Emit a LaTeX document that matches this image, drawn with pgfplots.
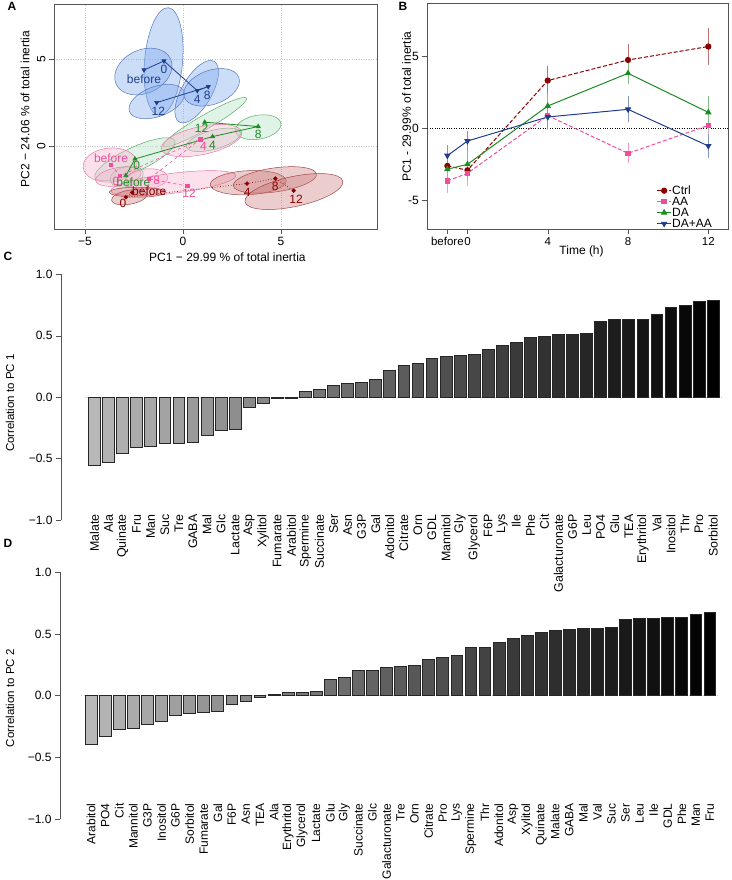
\documentclass[border=0pt]{standalone}
\usepackage{fontspec}
\setmainfont{Liberation Sans}
\usepackage{pgfplots}
\usepackage{pgfplotstable}
\pgfplotsset{compat=1.18}

\definecolor{ctrl}{HTML}{8B0000}
\definecolor{aa}{HTML}{EE4F9C}
\definecolor{da}{HTML}{1E8B22}
\definecolor{daaa}{HTML}{1F3F8C}
\definecolor{axgray}{HTML}{555555}
\definecolor{bfill}{HTML}{7FA9EE}
\definecolor{bline}{HTML}{5577BB}
\definecolor{gfill}{HTML}{B8E6C8}
\definecolor{gline}{HTML}{5DAA6A}
\definecolor{pfill}{HTML}{F7B5CF}
\definecolor{pline}{HTML}{E57AA5}
\definecolor{rfill}{HTML}{C87070}
\definecolor{rline}{HTML}{A04848}

\newcommand{\fs}{\fontsize{12}{14}\selectfont}
\newcommand{\fl}{\fontsize{11.5}{13}\selectfont}
% ellipse: style, cx, cy, semi axes (pt), rotation
\newcommand{\ellp}[6]{\draw[#1, rotate around={#6:(axis cs:#2,#3)}] (axis cs:#2,#3) ellipse [x radius=#4pt, y radius=#5pt];}

% correlations to PC1 (panel C), sorted
\pgfplotstableread{
x y
0 -0.555
1 -0.530
2 -0.454
3 -0.410
4 -0.400
5 -0.377
6 -0.374
7 -0.372
8 -0.314
9 -0.273
10 -0.260
11 -0.087
12 -0.050
13 -0.010
14 -0.007
15 0.044
16 0.066
17 0.096
18 0.112
19 0.123
20 0.148
21 0.220
22 0.257
23 0.276
24 0.314
25 0.328
26 0.344
27 0.347
28 0.393
29 0.423
30 0.450
31 0.490
32 0.497
33 0.508
34 0.510
35 0.522
36 0.615
37 0.631
38 0.631
39 0.637
40 0.678
41 0.727
42 0.746
43 0.776
44 0.784
}\pcone

% correlations to PC2 (panel D), sorted
\pgfplotstableread{
x y
0 -0.397
1 -0.332
2 -0.273
3 -0.268
4 -0.232
5 -0.205
6 -0.162
7 -0.146
8 -0.135
9 -0.124
10 -0.070
11 -0.046
12 -0.011
13 0.008
14 0.024
15 0.027
16 0.032
17 0.130
18 0.149
19 0.205
20 0.208
21 0.227
22 0.240
23 0.243
24 0.297
25 0.308
26 0.327
27 0.392
28 0.395
29 0.430
30 0.468
31 0.486
32 0.511
33 0.527
34 0.535
35 0.543
36 0.546
37 0.557
38 0.616
39 0.627
40 0.627
41 0.632
42 0.638
43 0.657
44 0.678
}\pctwo

% one bar per plot, shaded light grey -> black
\newcommand{\shadedbars}[1]{%
  \pgfplotsinvokeforeach{0,...,44}{%
    \pgfmathsetmacro\shade{28+1.636*##1}%
    \edef\tmp{\noexpand\addplot[ybar, bar width=11.8pt, draw=black!85, line width=0.7pt,
      fill=black!\shade, restrict x to domain=##1:##1] table[x=x,y=y] {\noexpand#1};}%
    \tmp
  }%
}

\tikzset{
  ell b/.style={draw=bline, fill=bfill, fill opacity=0.4, line width=0.5pt},
  ell g/.style={draw=gline, fill=gfill, fill opacity=0.45, line width=0.5pt},
  ell p/.style={draw=pline, fill=pfill, fill opacity=0.4, line width=0.5pt},
  ell r/.style={draw=rline, fill=rfill, fill opacity=0.35, line width=0.5pt},
}

\pgfplotsset{
  rstyle/.style={
    scale only axis,
    tick align=outside,
    major tick length=5pt,
    axis line style={axgray},
    every tick/.style={axgray},
    tick label style={font=\fs},
  },
  barstyle/.style={
    rstyle,
    ymin=-1, ymax=1,
    axis lines*=left,
    x axis line style={draw=none},
    xtick style={draw=none},
    ytick={-1,-0.5,0,0.5,1},
    yticklabels={−1.0,−0.5,0.0,0.5,1.0},
    xtick={0,...,44},
    x tick label style={rotate=90, anchor=east},
  },
}

\begin{document}
\begin{tikzpicture}
\useasboundingbox (0,0) rectangle (731pt,880pt);

% ---------------- panel A ----------------
\begin{axis}[rstyle,
  at={(54pt,651pt)}, anchor=south west,
  width=323pt, height=224.7pt,
  xmin=-6.58, xmax=9.9, ymin=-4.79, ymax=8.17,
  xtick={-5,0,5}, xticklabels={−5,0,5},
  ytick={0,5}, yticklabels={0,5},
  xtick pos=bottom, ytick pos=left,
  yticklabel style={rotate=90, anchor=south},
  grid=major, major grid style={gray!45, dotted},
  xlabel={PC1 − 29.99 \% of total inertia},
  ylabel={PC2 − 24.06 \% of total inertia},
  every axis x label/.style={at={(axis description cs:0.537,-0.1246)}, anchor=center, font=\fs},
  every axis y label/.style={at={(axis description cs:-0.0898,0.534)}, anchor=center, rotate=90, font=\fs},
]
% DA+AA ellipses
\ellp{ell b}{-0.99}{4.87}{54}{19}{85}
\ellp{ell b}{-2.02}{4.29}{30}{21.7}{25}
\ellp{ell b}{-1.34}{2.56}{29}{15}{20}
\ellp{ell b}{0.70}{3.13}{35}{15}{60}
\ellp{ell b}{1.46}{3.38}{29}{17}{20}
% DA ellipses
\ellp{ell g}{1.12}{1.37}{48}{7}{30}
\ellp{ell g}{3.84}{1.08}{23}{12}{10}
\ellp{ell g}{1.55}{0.35}{28}{9.5}{15}
\ellp{ell g}{-2.45}{-0.77}{44}{12}{25}
\ellp{ell g}{-2.87}{-1.77}{17}{10}{15}
% AA ellipses
\ellp{ell p}{-3.72}{-1.10}{27}{17}{5}
\ellp{ell p}{-3.30}{-1.77}{23}{9}{10}
\ellp{ell p}{-1.85}{-1.90}{21}{10}{5}
\ellp{ell p}{0.95}{0.31}{41}{14}{12}
\ellp{ell p}{-0.49}{-2.15}{63}{10}{7}
% Ctrl ellipses
\ellp{ell r}{-2.33}{-2.67}{28}{5}{0}
\ellp{ell r}{-2.74}{-2.96}{18}{7}{10}
\ellp{ell r}{3.33}{-2.12}{38}{12}{3}
\ellp{ell r}{4.69}{-1.96}{42}{12}{8}
\ellp{ell r}{5.66}{-2.63}{50}{15}{12}

% trajectories: before, 0, 4, 8, 12
\addplot[daaa, line width=0.8pt, mark=triangle*, mark size=2.2pt, mark options={rotate=180}]
  coordinates {(-1.99,4.38) (-0.97,4.90) (0.73,3.19) (1.29,3.42) (-1.34,2.50)};
\addplot[da, line width=0.8pt, mark=triangle*, mark size=2.2pt]
  coordinates {(-2.91,-1.71) (-2.45,-0.75) (1.51,0.54) (3.84,1.12) (1.11,1.37)};
\addplot[aa, line width=0.6pt, dashed, mark=square*, mark size=1.6pt, mark options={solid}]
  coordinates {(-3.67,-1.08) (-3.21,-1.73) (0.88,0.38) (-1.73,-1.90) (0.22,-2.31)};
\addplot[ctrl, line width=0.7pt, dotted, mark=*, mark size=1.8pt, mark options={solid}]
  coordinates {(-2.59,-2.69) (-2.91,-2.96) (3.27,-2.17) (4.71,-1.88) (5.65,-2.58)};

\begin{scope}[font=\fs]
\node[daaa] at (axis cs:-1.99,3.87) {before};
\node[daaa] at (axis cs:-0.97,4.42) {0};
\node[daaa] at (axis cs:0.73,2.69) {4};
\node[daaa] at (axis cs:1.24,2.94) {8};
\node[daaa] at (axis cs:-1.26,2.02) {12};
\node[da] at (axis cs:-2.53,-2.12) {before};
\node[da] at (axis cs:-2.36,-1.10) {0};
\node[da] at (axis cs:1.51,0.02) {4};
\node[da] at (axis cs:3.84,0.69) {8};
\node[da] at (axis cs:0.95,1.0) {12};
\node[aa] at (axis cs:-3.67,-0.73) {before};
\node[aa] at (axis cs:-3.42,-2.02) {0};
\node[aa] at (axis cs:1.05,-0.04) {4};
\node[aa] at (axis cs:-1.34,-1.96) {8};
\node[aa] at (axis cs:0.31,-2.73) {12};
\node[ctrl] at (axis cs:-1.72,-2.63) {before};
\node[ctrl] at (axis cs:-3.06,-3.31) {0};
\node[ctrl] at (axis cs:3.28,-2.65) {4};
\node[ctrl] at (axis cs:4.71,-2.35) {8};
\node[ctrl] at (axis cs:5.77,-3.06) {12};
\end{scope}
\end{axis}

% ---------------- panel B ----------------
\begin{axis}[rstyle,
  at={(427.3pt,651pt)}, anchor=south west,
  width=300.7pt, height=225.7pt,
  xmin=-2, xmax=12.98, ymin=-6.96, ymax=8.64,
  xtick={-1,0,4,8,12}, xticklabels={before,0,4,8,12},
  x tick label style={font=\fl},
  ytick={-5,0,5}, yticklabels={-5,0,5},
  xtick pos=bottom, ytick pos=left,
  xlabel={Time (h)}, ylabel={PC1 - 29.99\% of total inertia},
  every axis x label/.style={at={(axis description cs:0.513,-0.1006)}, anchor=center, font=\fs},
  every axis y label/.style={at={(axis description cs:-0.0685,0.542)}, anchor=center, rotate=90, font=\fs},
  legend style={at={(axis description cs:0.762,0.195)}, anchor=north west, draw=none, fill=none,
    font=\fs, row sep=0pt, inner sep=0pt,
    nodes={inner sep=0.6pt, text height=8.6pt, text depth=1.2pt}},
  legend cell align=left,
  legend image code/.code={\draw[mark repeat=2, mark phase=2, #1] plot coordinates {(0pt,0pt) (7pt,0pt) (14pt,0pt)};},
  error bars/y dir=both, error bars/y explicit,
  error bars/error mark options={mark size=3.5pt, line width=0.6pt},
]
\addplot[black, dotted, forget plot] coordinates {(-2,0) (12.98,0)};
\addplot[ctrl, line width=1pt, dash pattern=on 4pt off 2pt, mark=*, mark size=2.6pt, mark options={solid},
  error bars/error bar style={ctrl!55, solid, line width=0.6pt}]
  coordinates {(-1,-2.60) +-(0,0.30) (0,-2.90) +-(0,0.30) (4,3.30) +-(0,0.77) (8,4.72) +-(0,0.87) (12,5.65) +-(0,1.04)};
\addlegendentry{Ctrl}
\addplot[aa, line width=1pt, dash pattern=on 4pt off 2pt, mark=square*, mark size=2.2pt, mark options={solid},
  error bars/error bar style={aa!55, solid, line width=0.6pt}]
  coordinates {(-1,-3.64) +-(0,0.60) (0,-3.11) +-(0,0.64) (4,0.88) +-(0,0.75) (8,-1.73) +-(0,0.46) (12,0.20) +-(0,1.00)};
\addlegendentry{AA}
\addplot[da, line width=1pt, mark=triangle*, mark size=2.8pt,
  error bars/error bar style={da!55, line width=0.6pt}]
  coordinates {(-1,-2.83) +-(0,0.40) (0,-2.49) +-(0,0.85) (4,1.54) +-(0,0.61) (8,3.80) +-(0,0.52) (12,1.10) +-(0,0.92)};
\addlegendentry{DA}
\addplot[daaa, line width=1pt, mark=triangle*, mark size=2.8pt, mark options={rotate=180},
  error bars/error bar style={daaa!55, line width=0.6pt}]
  coordinates {(-1,-1.89) +-(0,0.52) (0,-0.88) +-(0,0.45) (4,0.78) +-(0,0.57) (8,1.31) +-(0,0.65) (12,-1.22) +-(0,0.58)};
\addlegendentry{DA+AA}
\end{axis}

% ---------------- panel C ----------------
\begin{axis}[barstyle,
  at={(61pt,360pt)}, anchor=south west,
  width=666pt, height=245.7pt,
  xmin=-2.383, xmax=44.99,
  x tick label style={xshift=14pt, font=\fontsize{12.4}{14}\selectfont},
  xticklabels={Malate,Ala,Quinate,Fru,Man,Suc,Tre,GABA,Mal,Glc,Lactate,Asp,Xylitol,Fumarate,Arabitol,Spermine,Succinate,Ser,Asn,G3P,Gal,Adonitol,Citrate,Orn,GDL,Mannitol,Gly,Glycerol,F6P,Lys,Ile,Phe,Cit,Galacturonate,G6P,Leu,PO4,Glu,TEA,Erythritol,Val,Inositol,Thr,Pro,Sorbitol},
  ylabel={Correlation to PC 1},
  every axis y label/.style={at={(axis description cs:-0.0766,0.476)}, anchor=center, rotate=90, font=\fl},
]
\addplot[gray!45, dotted, forget plot] coordinates {(-0.7,0) (44.7,0)};
\shadedbars{\pcone}
\end{axis}

% ---------------- panel D ----------------
\begin{axis}[barstyle,
  at={(60pt,60.9pt)}, anchor=south west,
  width=667pt, height=246.8pt,
  xmin=-2.219, xmax=45.22,
  x tick label style={xshift=24pt, font=\fontsize{12}{14}\selectfont},
  xticklabels={Arabitol,PO4,Cit,Mannitol,G3P,Inositol,G6P,Sorbitol,Fumarate,Gal,F6P,Asn,TEA,Ala,Erythritol,Glycerol,Lactate,Glu,Gly,Succinate,Glc,Galacturonate,Tre,Orn,Citrate,Pro,Lys,Spermine,Thr,Adonitol,Asp,Xylitol,Quinate,Malate,GABA,Mal,Val,Suc,Ser,Leu,Ile,GDL,Phe,Man,Fru},
  ylabel={Correlation to PC 2},
  every axis y label/.style={at={(axis description cs:-0.075,0.49)}, anchor=center, rotate=90, font=\fl},
]
\addplot[gray!45, dotted, forget plot] coordinates {(-0.7,0) (44.7,0)};
\shadedbars{\pctwo}
\end{axis}

% panel letters
\node[font=\bfseries\fontsize{12}{14}\selectfont] at (12pt,874pt) {A};
\node[font=\bfseries\fontsize{12}{14}\selectfont] at (403pt,874pt) {B};
\node[font=\bfseries\fontsize{12}{14}\selectfont] at (8pt,624pt) {C};
\node[font=\bfseries\fontsize{12}{14}\selectfont] at (8pt,337pt) {D};
\end{tikzpicture}
\end{document}
